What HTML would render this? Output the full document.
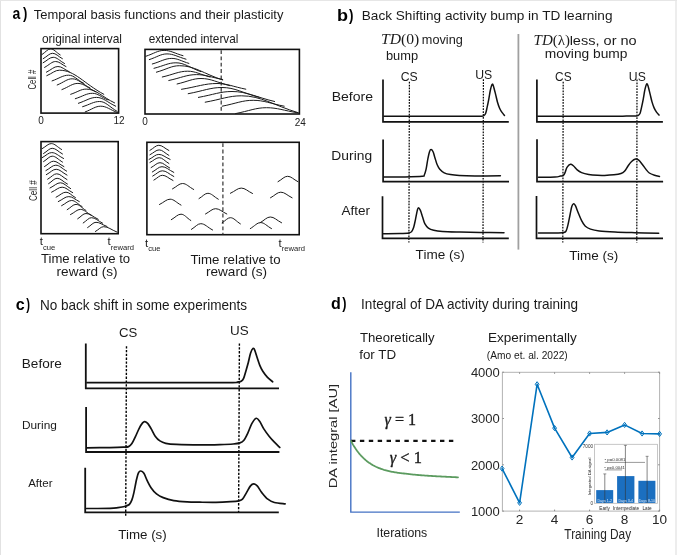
<!DOCTYPE html>
<html><head><meta charset="utf-8"><style>
html,body{margin:0;padding:0;background:#fff;}
svg{display:block;will-change:transform;}

</style></head><body>
<svg width="677" height="555" viewBox="0 0 677 555">
<rect x="0" y="0" width="677" height="555" fill="#fff"/>
<line x1="0.5" y1="0" x2="0.5" y2="555" stroke="#e2e2e2" stroke-width="1" stroke-linecap="butt"/>
<line x1="0" y1="0.5" x2="677" y2="0.5" stroke="#e6e6e6" stroke-width="1" stroke-linecap="butt"/>
<line x1="676" y1="0" x2="676" y2="555" stroke="#e6e6e6" stroke-width="1.4" stroke-linecap="butt"/>
<text x="12.58" y="18.8" font-size="16" font-weight="bold" font-style="normal" fill="#000" font-family='"Liberation Sans", sans-serif' textLength="7.80" lengthAdjust="spacingAndGlyphs" >a</text>
<text x="23.00" y="18.8" font-size="16" font-weight="bold" font-style="normal" fill="#000" font-family='"Liberation Sans", sans-serif' textLength="4.32" lengthAdjust="spacingAndGlyphs" >)</text>
<text x="33.74" y="19" font-size="13" font-weight="normal" font-style="normal" fill="#1a1a1a" font-family='"Liberation Sans", sans-serif' textLength="249.63" lengthAdjust="spacingAndGlyphs" >Temporal basis functions and their plasticity</text>
<text x="41.92" y="43.2" font-size="12.2" font-weight="normal" font-style="normal" fill="#1a1a1a" font-family='"Liberation Sans", sans-serif' textLength="80.06" lengthAdjust="spacingAndGlyphs" >original interval</text>
<text x="148.63" y="42.6" font-size="12.2" font-weight="normal" font-style="normal" fill="#1a1a1a" font-family='"Liberation Sans", sans-serif' textLength="89.75" lengthAdjust="spacingAndGlyphs" >extended interval</text>
<rect x="41.0" y="48.6" width="77.6" height="64.5" fill="none" stroke="#111" stroke-width="1.6"/>
<rect x="145.0" y="49.4" width="154.4" height="64.6" fill="none" stroke="#111" stroke-width="1.6"/>
<rect x="41.0" y="141.6" width="77.2" height="92.1" fill="none" stroke="#111" stroke-width="1.6"/>
<rect x="146.9" y="142.3" width="152.3" height="92.4" fill="none" stroke="#111" stroke-width="1.6"/>
<line x1="221.2" y1="50.2" x2="221.2" y2="114" stroke="#333" stroke-width="1.2" stroke-linecap="butt" stroke-dasharray="3.8,2.5"/>
<line x1="222.9" y1="143.2" x2="222.9" y2="234.5" stroke="#333" stroke-width="1.2" stroke-linecap="butt" stroke-dasharray="3.9,2.5"/>
<text x="41.1" y="123.8" font-size="10" font-weight="normal" fill="#222" text-anchor="middle" font-family='"Liberation Sans", sans-serif' font-style="normal" >0</text>
<text x="119.0" y="123.8" font-size="10" font-weight="normal" fill="#222" text-anchor="middle" font-family='"Liberation Sans", sans-serif' font-style="normal" >12</text>
<text x="145.0" y="124.6" font-size="10" font-weight="normal" fill="#222" text-anchor="middle" font-family='"Liberation Sans", sans-serif' font-style="normal" >0</text>
<text x="300.2" y="125.6" font-size="10" font-weight="normal" fill="#222" text-anchor="middle" font-family='"Liberation Sans", sans-serif' font-style="normal" >24</text>
<text transform="translate(35.8,89.20) rotate(-90)" x="-0.39" y="0" font-size="10.5" fill="#222" font-family='"Liberation Sans", sans-serif' textLength="19.94" lengthAdjust="spacingAndGlyphs">Cell #</text>
<text transform="translate(36.9,200.60) rotate(-90)" x="-0.41" y="0" font-size="10.5" fill="#222" font-family='"Liberation Sans", sans-serif' textLength="20.76" lengthAdjust="spacingAndGlyphs">Cell #</text>
<text x="39.8" y="245.2" font-size="11.5" fill="#1a1a1a" font-family='"Liberation Sans", sans-serif'>t<tspan font-size="7.6" dy="4.3">cue</tspan></text>
<text x="107.6" y="245.2" font-size="11.5" fill="#1a1a1a" font-family='"Liberation Sans", sans-serif'>t<tspan font-size="7.6" dy="4.3">reward</tspan></text>
<text x="145.0" y="246.6" font-size="11.5" fill="#1a1a1a" font-family='"Liberation Sans", sans-serif'>t<tspan font-size="7.6" dy="4.3">cue</tspan></text>
<text x="278.5" y="246.6" font-size="11.5" fill="#1a1a1a" font-family='"Liberation Sans", sans-serif'>t<tspan font-size="7.6" dy="4.3">reward</tspan></text>
<text x="40.94" y="263.4" font-size="12.9" font-weight="normal" font-style="normal" fill="#1a1a1a" font-family='"Liberation Sans", sans-serif' textLength="89.23" lengthAdjust="spacingAndGlyphs" >Time relative to</text>
<text x="56.62" y="275.5" font-size="12.9" font-weight="normal" font-style="normal" fill="#1a1a1a" font-family='"Liberation Sans", sans-serif' textLength="61.00" lengthAdjust="spacingAndGlyphs" >reward (s)</text>
<text x="190.53" y="263.6" font-size="12.9" font-weight="normal" font-style="normal" fill="#1a1a1a" font-family='"Liberation Sans", sans-serif' textLength="90.14" lengthAdjust="spacingAndGlyphs" >Time relative to</text>
<text x="205.92" y="276.0" font-size="12.9" font-weight="normal" font-style="normal" fill="#1a1a1a" font-family='"Liberation Sans", sans-serif' textLength="61.21" lengthAdjust="spacingAndGlyphs" >reward (s)</text>
<path d="M41.9,54.6 C45.9,52.0 47.6,48.9 50.7,48.9 C54.0,48.9 55.9,52.2 60.2,54.9" fill="none" stroke="#1a1a1a" stroke-width="1.0" stroke-linejoin="round" stroke-linecap="round" />
<path d="M43.2,58.7 C47.4,56.3 49.3,53.3 52.6,53.3 C56.0,53.3 58.0,56.3 62.4,58.7" fill="none" stroke="#1a1a1a" stroke-width="1.0" stroke-linejoin="round" stroke-linecap="round" />
<path d="M43.1,62.8 C47.6,60.3 49.7,57.3 53.2,57.3 C57.2,57.3 59.4,60.7 64.5,63.5" fill="none" stroke="#1a1a1a" stroke-width="1.0" stroke-linejoin="round" stroke-linecap="round" />
<path d="M44.6,67.4 C49.6,64.7 51.8,61.5 55.7,61.5 C59.3,61.5 61.4,64.3 66.0,66.6" fill="none" stroke="#1a1a1a" stroke-width="1.0" stroke-linejoin="round" stroke-linecap="round" />
<path d="M46.4,72.2 C51.6,69.6 53.9,66.5 57.9,66.5 C61.9,66.5 64.2,69.4 69.3,71.8" fill="none" stroke="#1a1a1a" stroke-width="1.0" stroke-linejoin="round" stroke-linecap="round" />
<path d="M46.8,75.7 C52.5,73.2 55.0,70.2 59.4,70.2 C74.9,70.2 83.8,83.5 103.8,94.3" fill="none" stroke="#1a1a1a" stroke-width="1.0" stroke-linejoin="round" stroke-linecap="round" />
<path d="M52.1,80.9 C59.5,78.3 62.8,75.2 68.6,75.2 C74.0,75.2 77.1,79.8 84.0,83.5" fill="none" stroke="#1a1a1a" stroke-width="1.0" stroke-linejoin="round" stroke-linecap="round" />
<path d="M57.2,85.0 C64.0,82.2 67.0,78.8 72.2,78.8 C78.4,78.8 82.0,83.9 90.0,88.0" fill="none" stroke="#1a1a1a" stroke-width="1.0" stroke-linejoin="round" stroke-linecap="round" />
<path d="M61.9,89.6 C69.1,86.8 72.3,83.4 77.9,83.4 C84.2,83.4 87.9,88.1 96.0,92.0" fill="none" stroke="#1a1a1a" stroke-width="1.0" stroke-linejoin="round" stroke-linecap="round" />
<path d="M70.7,94.3 C77.7,92.0 80.8,89.1 86.2,89.1 C96.1,89.1 101.8,96.7 114.6,102.9" fill="none" stroke="#1a1a1a" stroke-width="1.0" stroke-linejoin="round" stroke-linecap="round" />
<path d="M75.3,98.7 C83.0,96.3 86.4,93.3 92.4,93.3 C97.9,93.3 101.0,97.0 108.0,100.0" fill="none" stroke="#1a1a1a" stroke-width="1.0" stroke-linejoin="round" stroke-linecap="round" />
<path d="M78.4,103.3 C86.5,100.6 90.2,97.4 96.5,97.4 C103.2,97.4 107.1,102.2 115.7,106.2" fill="none" stroke="#1a1a1a" stroke-width="1.0" stroke-linejoin="round" stroke-linecap="round" />
<path d="M82.6,106.7 C90.2,104.4 93.6,101.5 99.6,101.5 C105.8,101.5 109.3,106.9 117.2,111.4" fill="none" stroke="#1a1a1a" stroke-width="1.0" stroke-linejoin="round" stroke-linecap="round" />
<path d="M85.2,111.9 C92.2,109.3 95.3,106.2 100.7,106.2 C106.6,106.2 109.9,109.7 117.5,112.6" fill="none" stroke="#1a1a1a" stroke-width="1.0" stroke-linejoin="round" stroke-linecap="round" />
<path d="M145.8,56.3 C154.0,53.6 157.7,50.4 164.1,50.4 C170.7,50.4 174.5,53.3 183.0,55.7" fill="none" stroke="#1a1a1a" stroke-width="1.0" stroke-linejoin="round" stroke-linecap="round" />
<path d="M149.3,59.6 C157.3,57.0 160.8,53.9 167.0,53.9 C173.7,53.9 177.4,56.8 186.0,59.2" fill="none" stroke="#1a1a1a" stroke-width="1.0" stroke-linejoin="round" stroke-linecap="round" />
<path d="M152.3,64.0 C161.1,61.5 165.0,58.4 171.8,58.4 C177.8,58.4 181.2,61.1 188.9,63.4" fill="none" stroke="#1a1a1a" stroke-width="1.0" stroke-linejoin="round" stroke-linecap="round" />
<path d="M154.0,68.3 C163.9,65.8 168.2,62.8 175.9,62.8 C184.6,62.8 189.5,67.6 200.7,71.6" fill="none" stroke="#1a1a1a" stroke-width="1.0" stroke-linejoin="round" stroke-linecap="round" />
<path d="M156.4,72.2 C166.8,69.3 171.4,65.7 179.5,65.7 C194.6,65.7 203.3,73.6 222.7,80.0" fill="none" stroke="#1a1a1a" stroke-width="1.0" stroke-linejoin="round" stroke-linecap="round" />
<path d="M162.3,77.0 C173.7,74.4 178.8,71.2 187.7,71.2 C195.5,71.2 200.0,74.4 210.0,77.0" fill="none" stroke="#1a1a1a" stroke-width="1.0" stroke-linejoin="round" stroke-linecap="round" />
<path d="M168.8,80.5 C181.3,77.8 186.9,74.6 196.6,74.6 C205.7,74.6 211.0,77.3 222.7,79.5" fill="none" stroke="#1a1a1a" stroke-width="1.0" stroke-linejoin="round" stroke-linecap="round" />
<path d="M177.1,84.0 C187.9,81.5 192.6,78.5 201.0,78.5 C211.2,78.5 216.9,82.5 230.0,85.7" fill="none" stroke="#1a1a1a" stroke-width="1.0" stroke-linejoin="round" stroke-linecap="round" />
<path d="M181.5,89.3 C197.5,86.7 204.6,83.5 217.0,83.5 C227.1,83.5 232.8,86.6 245.8,89.2" fill="none" stroke="#1a1a1a" stroke-width="1.0" stroke-linejoin="round" stroke-linecap="round" />
<path d="M188.2,93.7 C203.4,90.9 210.2,87.5 222.0,87.5 C235.0,87.5 242.4,92.9 259.1,97.3" fill="none" stroke="#1a1a1a" stroke-width="1.0" stroke-linejoin="round" stroke-linecap="round" />
<path d="M198.4,97.4 C213.5,94.7 220.2,91.5 232.0,91.5 C246.9,91.5 255.4,97.0 274.6,101.5" fill="none" stroke="#1a1a1a" stroke-width="1.0" stroke-linejoin="round" stroke-linecap="round" />
<path d="M205.2,102.2 C221.5,99.3 228.7,95.8 241.4,95.8 C261.4,95.8 272.8,105.1 298.5,112.8" fill="none" stroke="#1a1a1a" stroke-width="1.0" stroke-linejoin="round" stroke-linecap="round" />
<path d="M222.2,106.2 C236.1,103.5 242.3,100.3 253.2,100.3 C264.1,100.3 270.2,103.5 284.2,106.2" fill="none" stroke="#1a1a1a" stroke-width="1.0" stroke-linejoin="round" stroke-linecap="round" />
<path d="M235.5,113.6 C249.4,110.9 255.7,107.7 266.5,107.7 C277.4,107.7 283.6,110.5 297.5,112.8" fill="none" stroke="#1a1a1a" stroke-width="1.0" stroke-linejoin="round" stroke-linecap="round" />
<path d="M42.3,148.6 C46.3,146.3 48.1,143.6 51.3,143.6 C54.9,143.6 57.0,146.8 61.6,149.5" fill="none" stroke="#1a1a1a" stroke-width="1.0" stroke-linejoin="round" stroke-linecap="round" />
<path d="M43.6,153.5 C47.5,151.2 49.2,148.3 52.2,148.3 C55.8,148.3 57.9,151.4 62.5,154.0" fill="none" stroke="#1a1a1a" stroke-width="1.0" stroke-linejoin="round" stroke-linecap="round" />
<path d="M42.3,157.6 C46.5,155.3 48.4,152.6 51.7,152.6 C55.9,152.6 58.2,155.8 63.6,158.5" fill="none" stroke="#1a1a1a" stroke-width="1.0" stroke-linejoin="round" stroke-linecap="round" />
<path d="M43.6,161.6 C47.5,159.2 49.2,156.2 52.2,156.2 C55.8,156.2 57.9,159.4 62.5,162.1" fill="none" stroke="#1a1a1a" stroke-width="1.0" stroke-linejoin="round" stroke-linecap="round" />
<path d="M44.5,166.6 C48.5,164.2 50.4,161.2 53.5,161.2 C57.1,161.2 59.2,164.2 63.9,166.6" fill="none" stroke="#1a1a1a" stroke-width="1.0" stroke-linejoin="round" stroke-linecap="round" />
<path d="M45.9,170.6 C50.4,168.2 52.3,165.2 55.8,165.2 C59.6,165.2 61.7,168.4 66.6,171.1" fill="none" stroke="#1a1a1a" stroke-width="1.0" stroke-linejoin="round" stroke-linecap="round" />
<path d="M46.3,174.7 C50.8,172.3 52.7,169.3 56.2,169.3 C60.0,169.3 62.1,172.5 67.0,175.1" fill="none" stroke="#1a1a1a" stroke-width="1.0" stroke-linejoin="round" stroke-linecap="round" />
<path d="M47.7,179.2 C51.8,176.8 53.6,173.8 56.7,173.8 C60.3,173.8 62.4,177.0 67.0,179.6" fill="none" stroke="#1a1a1a" stroke-width="1.0" stroke-linejoin="round" stroke-linecap="round" />
<path d="M48.6,183.7 C52.4,181.3 54.1,178.3 57.1,178.3 C60.7,178.3 62.8,181.5 67.5,184.1" fill="none" stroke="#1a1a1a" stroke-width="1.0" stroke-linejoin="round" stroke-linecap="round" />
<path d="M50.0,188.0 C54.7,185.7 56.8,182.8 60.5,182.8 C64.0,182.8 66.1,186.0 70.6,188.6" fill="none" stroke="#1a1a1a" stroke-width="1.0" stroke-linejoin="round" stroke-linecap="round" />
<path d="M51.6,192.2 C56.4,189.9 58.5,187.2 62.2,187.2 C65.9,187.2 68.0,190.2 72.7,192.7" fill="none" stroke="#1a1a1a" stroke-width="1.0" stroke-linejoin="round" stroke-linecap="round" />
<path d="M56.1,197.2 C60.6,194.9 62.5,192.2 66.0,192.2 C69.3,192.2 71.2,195.2 75.5,197.7" fill="none" stroke="#1a1a1a" stroke-width="1.0" stroke-linejoin="round" stroke-linecap="round" />
<path d="M58.3,201.6 C63.0,199.3 65.1,196.6 68.8,196.6 C72.5,196.6 74.6,199.3 79.3,201.6" fill="none" stroke="#1a1a1a" stroke-width="1.0" stroke-linejoin="round" stroke-linecap="round" />
<path d="M61.6,205.7 C66.1,203.4 68.1,200.5 71.6,200.5 C75.3,200.5 77.4,203.9 82.1,206.6" fill="none" stroke="#1a1a1a" stroke-width="1.0" stroke-linejoin="round" stroke-linecap="round" />
<path d="M67.2,209.7 C71.2,207.3 72.9,204.4 76.0,204.4 C79.5,204.4 81.5,207.8 86.0,210.5" fill="none" stroke="#1a1a1a" stroke-width="1.0" stroke-linejoin="round" stroke-linecap="round" />
<path d="M70.5,214.6 C75.0,212.3 76.9,209.4 80.4,209.4 C84.3,209.4 86.5,212.7 91.5,215.4" fill="none" stroke="#1a1a1a" stroke-width="1.0" stroke-linejoin="round" stroke-linecap="round" />
<path d="M77.7,218.8 C81.4,216.4 83.1,213.5 86.0,213.5 C90.3,213.5 92.7,216.7 98.2,219.3" fill="none" stroke="#1a1a1a" stroke-width="1.0" stroke-linejoin="round" stroke-linecap="round" />
<path d="M83.2,223.0 C86.9,220.6 88.6,217.7 91.5,217.7 C95.4,217.7 97.6,220.7 102.6,223.2" fill="none" stroke="#1a1a1a" stroke-width="1.0" stroke-linejoin="round" stroke-linecap="round" />
<path d="M87.6,227.6 C91.4,225.2 93.1,222.3 96.0,222.3 C99.8,222.3 102.0,224.6 107.0,226.5" fill="none" stroke="#1a1a1a" stroke-width="1.0" stroke-linejoin="round" stroke-linecap="round" />
<path d="M95.4,231.5 C99.1,229.3 100.8,226.7 103.7,226.7 C108.4,226.7 111.0,229.7 117.0,232.1" fill="none" stroke="#1a1a1a" stroke-width="1.0" stroke-linejoin="round" stroke-linecap="round" />
<path d="M149.9,150.4 C153.9,148.1 155.7,145.3 158.8,145.3 C162.3,145.3 164.4,148.2 168.9,150.5" fill="none" stroke="#1a1a1a" stroke-width="1.0" stroke-linejoin="round" stroke-linecap="round" />
<path d="M149.9,154.8 C154.1,152.6 155.9,149.9 159.2,149.9 C162.6,149.9 164.5,152.9 168.9,155.4" fill="none" stroke="#1a1a1a" stroke-width="1.0" stroke-linejoin="round" stroke-linecap="round" />
<path d="M149.1,159.4 C153.5,157.2 155.4,154.4 158.8,154.4 C162.8,154.4 165.0,157.2 170.1,159.4" fill="none" stroke="#1a1a1a" stroke-width="1.0" stroke-linejoin="round" stroke-linecap="round" />
<path d="M149.9,162.5 C154.1,160.3 155.9,157.7 159.2,157.7 C162.6,157.7 164.5,160.9 168.9,163.5" fill="none" stroke="#1a1a1a" stroke-width="1.0" stroke-linejoin="round" stroke-linecap="round" />
<path d="M151.1,167.6 C155.1,165.4 156.9,162.7 160.0,162.7 C163.4,162.7 165.3,165.6 169.7,168.0" fill="none" stroke="#1a1a1a" stroke-width="1.0" stroke-linejoin="round" stroke-linecap="round" />
<path d="M152.3,172.0 C156.7,169.6 158.6,166.7 162.0,166.7 C166.1,166.7 168.5,169.8 173.8,172.4" fill="none" stroke="#1a1a1a" stroke-width="1.0" stroke-linejoin="round" stroke-linecap="round" />
<path d="M152.7,176.1 C157.1,173.7 159.0,170.8 162.4,170.8 C166.4,170.8 168.7,173.9 173.8,176.5" fill="none" stroke="#1a1a1a" stroke-width="1.0" stroke-linejoin="round" stroke-linecap="round" />
<path d="M153.9,180.1 C157.7,177.9 159.4,175.3 162.4,175.3 C166.1,175.3 168.2,178.2 173.0,180.5" fill="none" stroke="#1a1a1a" stroke-width="1.0" stroke-linejoin="round" stroke-linecap="round" />
<path d="M172.5,188.9 C177.0,186.5 179.0,183.5 182.5,183.5 C186.4,183.5 188.7,186.8 193.7,189.5" fill="none" stroke="#1a1a1a" stroke-width="1.0" stroke-linejoin="round" stroke-linecap="round" />
<path d="M199.0,198.6 C203.0,196.2 204.8,193.3 207.9,193.3 C211.5,193.3 213.6,196.5 218.3,199.2" fill="none" stroke="#1a1a1a" stroke-width="1.0" stroke-linejoin="round" stroke-linecap="round" />
<path d="M159.5,204.5 C164.3,202.1 166.4,199.2 170.1,199.2 C173.9,199.2 176.1,202.4 181.0,205.1" fill="none" stroke="#1a1a1a" stroke-width="1.0" stroke-linejoin="round" stroke-linecap="round" />
<path d="M205.5,214.0 C210.0,211.6 212.1,208.7 215.6,208.7 C219.5,208.7 221.8,211.6 226.8,214.0" fill="none" stroke="#1a1a1a" stroke-width="1.0" stroke-linejoin="round" stroke-linecap="round" />
<path d="M171.3,219.7 C175.7,217.2 177.6,214.2 181.0,214.2 C184.4,214.2 186.4,217.7 190.8,220.5" fill="none" stroke="#1a1a1a" stroke-width="1.0" stroke-linejoin="round" stroke-linecap="round" />
<path d="M191.4,229.4 C195.6,226.8 197.5,223.7 200.8,223.7 C204.9,223.7 207.3,227.2 212.6,230.0" fill="none" stroke="#1a1a1a" stroke-width="1.0" stroke-linejoin="round" stroke-linecap="round" />
<path d="M278.0,181.7 C282.3,179.3 284.2,176.3 287.6,176.3 C291.2,176.3 293.3,179.3 297.9,181.7" fill="none" stroke="#1a1a1a" stroke-width="1.0" stroke-linejoin="round" stroke-linecap="round" />
<path d="M230.4,193.3 C235.3,191.0 237.5,188.1 241.3,188.1 C245.2,188.1 247.5,191.1 252.5,193.5" fill="none" stroke="#1a1a1a" stroke-width="1.0" stroke-linejoin="round" stroke-linecap="round" />
<path d="M270.5,197.8 C275.1,195.3 277.2,192.2 280.8,192.2 C284.8,192.2 287.0,195.3 292.1,197.8" fill="none" stroke="#1a1a1a" stroke-width="1.0" stroke-linejoin="round" stroke-linecap="round" />
<path d="M222.1,222.8 C225.8,220.5 227.5,217.7 230.4,217.7 C233.9,217.7 235.9,221.1 240.4,223.9" fill="none" stroke="#1a1a1a" stroke-width="1.0" stroke-linejoin="round" stroke-linecap="round" />
<path d="M250.3,228.6 C254.9,225.9 257.0,222.6 260.6,222.6 C264.4,222.6 266.6,225.9 271.5,228.6" fill="none" stroke="#1a1a1a" stroke-width="1.0" stroke-linejoin="round" stroke-linecap="round" />
<path d="M260.0,222.8 C264.6,220.2 266.7,217.0 270.3,217.0 C274.3,217.0 276.5,220.2 281.6,222.8" fill="none" stroke="#1a1a1a" stroke-width="1.0" stroke-linejoin="round" stroke-linecap="round" />
<text x="337.13" y="21.2" font-size="16" font-weight="bold" font-style="normal" fill="#000" font-family='"Liberation Sans", sans-serif' textLength="11.01" lengthAdjust="spacingAndGlyphs" >b</text>
<text x="348.90" y="21.2" font-size="16" font-weight="bold" font-style="normal" fill="#000" font-family='"Liberation Sans", sans-serif' textLength="4.44" lengthAdjust="spacingAndGlyphs" >)</text>
<text x="361.81" y="19.9" font-size="13" font-weight="normal" font-style="normal" fill="#1a1a1a" font-family='"Liberation Sans", sans-serif' textLength="250.67" lengthAdjust="spacingAndGlyphs" >Back Shifting activity bump in TD learning</text>
<text x="381.0" y="44" font-size="14.5" fill="#1a1a1a" font-family='"Liberation Serif", serif' textLength="38.3" lengthAdjust="spacingAndGlyphs"><tspan font-style="italic">TD</tspan>(0)</text>
<text x="421.87" y="44" font-size="12.5" font-weight="normal" font-style="normal" fill="#1a1a1a" font-family='"Liberation Sans", sans-serif' textLength="40.93" lengthAdjust="spacingAndGlyphs" >moving</text>
<text x="385.96" y="59.8" font-size="12.5" font-weight="normal" font-style="normal" fill="#1a1a1a" font-family='"Liberation Sans", sans-serif' textLength="32.17" lengthAdjust="spacingAndGlyphs" >bump</text>
<text x="533.6" y="45.4" font-size="14.5" fill="#1a1a1a" font-family='"Liberation Serif", serif' textLength="36.4" lengthAdjust="spacingAndGlyphs"><tspan font-style="italic">TD</tspan>(λ)</text>
<text x="569.65" y="45.4" font-size="12.8" font-weight="normal" font-style="normal" fill="#1a1a1a" font-family='"Liberation Sans", sans-serif' textLength="67.08" lengthAdjust="spacingAndGlyphs" >less, or no</text>
<text x="544.80" y="58.4" font-size="12.8" font-weight="normal" font-style="normal" fill="#1a1a1a" font-family='"Liberation Sans", sans-serif' textLength="82.69" lengthAdjust="spacingAndGlyphs" >moving bump</text>
<line x1="518.4" y1="34" x2="518.4" y2="249.6" stroke="#a0a0a0" stroke-width="1.8" stroke-linecap="butt"/>
<text x="331.68" y="101.4" font-size="12.8" font-weight="normal" font-style="normal" fill="#1a1a1a" font-family='"Liberation Sans", sans-serif' textLength="41.38" lengthAdjust="spacingAndGlyphs" >Before</text>
<text x="331.39" y="160" font-size="12.8" font-weight="normal" font-style="normal" fill="#1a1a1a" font-family='"Liberation Sans", sans-serif' textLength="40.72" lengthAdjust="spacingAndGlyphs" >During</text>
<text x="341.50" y="214.5" font-size="12.8" font-weight="normal" font-style="normal" fill="#1a1a1a" font-family='"Liberation Sans", sans-serif' textLength="28.53" lengthAdjust="spacingAndGlyphs" >After</text>
<text x="415.63" y="259.4" font-size="12.8" font-weight="normal" font-style="normal" fill="#1a1a1a" font-family='"Liberation Sans", sans-serif' textLength="49.14" lengthAdjust="spacingAndGlyphs" >Time (s)</text>
<text x="569.23" y="259.5" font-size="12.8" font-weight="normal" font-style="normal" fill="#1a1a1a" font-family='"Liberation Sans", sans-serif' textLength="49.14" lengthAdjust="spacingAndGlyphs" >Time (s)</text>
<text x="400.69" y="80.6" font-size="12" font-weight="normal" font-style="normal" fill="#1a1a1a" font-family='"Liberation Sans", sans-serif' textLength="17.02" lengthAdjust="spacingAndGlyphs" >CS</text>
<text x="475.18" y="78.9" font-size="12" font-weight="normal" font-style="normal" fill="#1a1a1a" font-family='"Liberation Sans", sans-serif' textLength="17.02" lengthAdjust="spacingAndGlyphs" >US</text>
<text x="555.11" y="80.6" font-size="12" font-weight="normal" font-style="normal" fill="#1a1a1a" font-family='"Liberation Sans", sans-serif' textLength="16.48" lengthAdjust="spacingAndGlyphs" >CS</text>
<text x="628.89" y="80.6" font-size="12" font-weight="normal" font-style="normal" fill="#1a1a1a" font-family='"Liberation Sans", sans-serif' textLength="16.91" lengthAdjust="spacingAndGlyphs" >US</text>
<line x1="409.4" y1="81.8" x2="408.9" y2="242.5" stroke="#000" stroke-width="1.2" stroke-linecap="butt" stroke-dasharray="1.7,1.2"/>
<line x1="483.4" y1="79.3" x2="483.0" y2="242.5" stroke="#000" stroke-width="1.2" stroke-linecap="butt" stroke-dasharray="1.7,1.2"/>
<line x1="563.2" y1="81.8" x2="562.8" y2="242.5" stroke="#000" stroke-width="1.2" stroke-linecap="butt" stroke-dasharray="1.7,1.2"/>
<line x1="637.0" y1="79.6" x2="636.8" y2="242.5" stroke="#000" stroke-width="1.2" stroke-linecap="butt" stroke-dasharray="1.7,1.2"/>
<path d="M383.0,79.6 L383.0,121.8 L508.8,121.8" fill="none" stroke="#111" stroke-width="1.7"/>
<path d="M536.9,79.5 L536.9,121.8 L662.9,121.8" fill="none" stroke="#111" stroke-width="1.7"/>
<path d="M383.1,139.6 L383.1,181.6 L509.0,181.6" fill="none" stroke="#111" stroke-width="1.7"/>
<path d="M537.0,139.3 L537.0,181.6 L663.1,181.6" fill="none" stroke="#111" stroke-width="1.7"/>
<path d="M382.5,196.2 L382.5,238.3 L508.8,238.3" fill="none" stroke="#111" stroke-width="1.7"/>
<path d="M536.5,196.1 L536.5,238.3 L663.0,238.3" fill="none" stroke="#111" stroke-width="1.7"/>
<path d="M384.00,116.30 C390.00,116.29 409.00,116.27 420.00,116.25 C431.00,116.23 442.50,116.21 450.00,116.20 C457.50,116.19 460.83,116.20 465.00,116.20 C469.17,116.20 472.33,116.20 475.00,116.20 C477.67,116.20 479.62,116.25 481.00,116.20 C482.38,116.15 482.55,116.30 483.30,115.90 C484.05,115.50 484.87,115.22 485.50,113.80 C486.13,112.38 486.55,109.85 487.10,107.40 C487.65,104.95 488.25,102.00 488.80,99.10 C489.35,96.20 489.85,92.45 490.40,90.00 C490.95,87.55 491.60,85.08 492.10,84.40 C492.60,83.72 492.82,84.23 493.40,85.90 C493.98,87.57 494.92,91.68 495.60,94.40 C496.28,97.12 496.83,99.90 497.50,102.20 C498.17,104.50 498.85,106.50 499.60,108.20 C500.35,109.90 501.18,111.20 502.00,112.40 C502.82,113.60 504.08,114.90 504.50,115.40" fill="none" stroke="#111" stroke-width="1.5" stroke-linejoin="round" stroke-linecap="round" />
<path d="M537.80,116.30 C543.17,116.29 559.63,116.27 570.00,116.25 C580.37,116.23 591.75,116.21 600.00,116.20 C608.25,116.19 614.58,116.25 619.50,116.20 C624.42,116.15 626.83,115.95 629.50,115.90 C632.17,115.85 634.12,115.95 635.50,115.90 C636.88,115.85 637.05,116.00 637.80,115.60 C638.55,115.20 639.37,114.92 640.00,113.50 C640.63,112.08 641.05,109.55 641.60,107.10 C642.15,104.65 642.75,101.70 643.30,98.80 C643.85,95.90 644.35,92.15 644.90,89.70 C645.45,87.25 646.10,84.78 646.60,84.10 C647.10,83.42 647.32,83.93 647.90,85.60 C648.48,87.27 649.42,91.38 650.10,94.10 C650.78,96.82 651.33,99.60 652.00,101.90 C652.67,104.20 653.35,106.20 654.10,107.90 C654.85,109.60 655.68,110.90 656.50,112.10 C657.32,113.30 658.58,114.60 659.00,115.10" fill="none" stroke="#111" stroke-width="1.5" stroke-linejoin="round" stroke-linecap="round" />
<path d="M384.00,177.00 C387.50,176.98 398.65,177.02 405.00,176.90 C411.35,176.78 418.88,176.62 422.10,176.30 C425.32,175.98 423.63,176.18 424.30,175.00 C424.97,173.82 425.50,171.93 426.10,169.20 C426.70,166.47 427.32,161.55 427.90,158.60 C428.48,155.65 429.07,153.00 429.60,151.50 C430.13,150.00 430.50,149.52 431.10,149.60 C431.70,149.68 432.57,150.65 433.20,152.00 C433.83,153.35 434.23,155.57 434.90,157.70 C435.57,159.83 436.38,162.88 437.20,164.80 C438.02,166.72 438.63,167.87 439.80,169.20 C440.97,170.53 442.42,171.90 444.20,172.80 C445.98,173.70 447.98,174.15 450.50,174.60 C453.02,175.05 455.22,175.28 459.30,175.50 C463.38,175.72 468.15,175.85 475.00,175.90 C481.85,175.95 496.17,175.82 500.40,175.80" fill="none" stroke="#111" stroke-width="1.5" stroke-linejoin="round" stroke-linecap="round" />
<path d="M538.50,177.30 C541.25,177.25 551.37,177.20 555.00,177.00 C558.63,176.80 558.90,176.38 560.30,176.10 C561.70,175.82 562.58,175.95 563.40,175.30 C564.22,174.65 564.60,173.53 565.20,172.20 C565.80,170.87 566.12,168.63 567.00,167.30 C567.88,165.97 569.40,164.42 570.50,164.20 C571.60,163.98 572.48,165.05 573.60,166.00 C574.72,166.95 575.87,168.80 577.20,169.90 C578.53,171.00 579.68,171.85 581.60,172.60 C583.52,173.35 586.05,173.95 588.70,174.40 C591.35,174.85 594.85,175.13 597.50,175.30 C600.15,175.47 601.87,175.48 604.60,175.40 C607.33,175.32 611.17,175.12 613.90,174.80 C616.63,174.48 619.23,174.08 621.00,173.50 C622.77,172.92 623.33,172.55 624.50,171.30 C625.67,170.05 626.82,167.63 628.00,166.00 C629.18,164.37 630.33,162.65 631.60,161.50 C632.87,160.35 634.42,159.32 635.60,159.10 C636.78,158.88 637.60,159.35 638.70,160.20 C639.80,161.05 641.02,162.72 642.20,164.20 C643.38,165.68 644.62,167.63 645.80,169.10 C646.98,170.57 647.83,171.97 649.30,173.00 C650.77,174.03 652.90,174.73 654.60,175.30 C656.30,175.87 658.68,176.22 659.50,176.40" fill="none" stroke="#111" stroke-width="1.5" stroke-linejoin="round" stroke-linecap="round" />
<path d="M383.50,233.70 C386.25,233.68 395.77,233.72 400.00,233.60 C404.23,233.48 406.98,233.32 408.90,233.00 C410.82,232.68 410.70,232.67 411.50,231.70 C412.30,230.73 413.03,229.27 413.70,227.20 C414.37,225.13 414.90,222.10 415.50,219.30 C416.10,216.50 416.82,212.33 417.30,210.40 C417.78,208.47 417.88,207.70 418.40,207.70 C418.92,207.70 419.70,208.83 420.40,210.40 C421.10,211.97 421.87,214.88 422.60,217.10 C423.33,219.32 423.83,221.87 424.80,223.70 C425.77,225.53 426.92,227.00 428.40,228.10 C429.88,229.20 431.35,229.73 433.70,230.30 C436.05,230.87 438.12,231.20 442.50,231.50 C446.88,231.80 453.75,231.93 460.00,232.10 C466.25,232.27 472.67,232.40 480.00,232.50 C487.33,232.60 500.00,232.67 504.00,232.70" fill="none" stroke="#111" stroke-width="1.5" stroke-linejoin="round" stroke-linecap="round" />
<path d="M538.40,232.90 C541.17,232.90 550.75,232.98 555.00,232.90 C559.25,232.82 562.05,232.73 563.90,232.40 C565.75,232.07 565.43,232.12 566.10,230.90 C566.77,229.68 567.23,227.83 567.90,225.10 C568.57,222.37 569.45,217.60 570.10,214.50 C570.75,211.40 571.27,208.27 571.80,206.50 C572.33,204.73 572.70,204.05 573.30,203.90 C573.90,203.75 574.62,204.20 575.40,205.60 C576.18,207.00 576.97,209.78 578.00,212.30 C579.03,214.82 580.42,218.42 581.60,220.70 C582.78,222.98 583.62,224.60 585.10,226.00 C586.58,227.40 588.13,228.28 590.50,229.10 C592.87,229.92 595.22,230.42 599.30,230.90 C603.38,231.38 609.05,231.70 615.00,232.00 C620.95,232.30 627.72,232.48 635.00,232.70 C642.28,232.92 654.75,233.20 658.70,233.30" fill="none" stroke="#111" stroke-width="1.5" stroke-linejoin="round" stroke-linecap="round" />
<text x="15.76" y="310.4" font-size="16" font-weight="bold" font-style="normal" fill="#000" font-family='"Liberation Sans", sans-serif' textLength="8.94" lengthAdjust="spacingAndGlyphs" >c</text>
<text x="26.20" y="310.4" font-size="16" font-weight="bold" font-style="normal" fill="#000" font-family='"Liberation Sans", sans-serif' textLength="3.74" lengthAdjust="spacingAndGlyphs" >)</text>
<text x="39.92" y="309.7" font-size="14.3" font-weight="normal" font-style="normal" fill="#1a1a1a" font-family='"Liberation Sans", sans-serif' textLength="207.25" lengthAdjust="spacingAndGlyphs" >No back shift in some experiments</text>
<text x="118.94" y="336.5" font-size="12.5" font-weight="normal" font-style="normal" fill="#1a1a1a" font-family='"Liberation Sans", sans-serif' textLength="18.31" lengthAdjust="spacingAndGlyphs" >CS</text>
<text x="230.09" y="334.8" font-size="12.5" font-weight="normal" font-style="normal" fill="#1a1a1a" font-family='"Liberation Sans", sans-serif' textLength="18.67" lengthAdjust="spacingAndGlyphs" >US</text>
<text x="21.81" y="367.9" font-size="12.8" font-weight="normal" font-style="normal" fill="#1a1a1a" font-family='"Liberation Sans", sans-serif' textLength="40.02" lengthAdjust="spacingAndGlyphs" >Before</text>
<text x="21.95" y="429.0" font-size="11.6" font-weight="normal" font-style="normal" fill="#1a1a1a" font-family='"Liberation Sans", sans-serif' textLength="34.93" lengthAdjust="spacingAndGlyphs" >During</text>
<text x="28.20" y="486.9" font-size="11.6" font-weight="normal" font-style="normal" fill="#1a1a1a" font-family='"Liberation Sans", sans-serif' textLength="24.29" lengthAdjust="spacingAndGlyphs" >After</text>
<text x="118.33" y="538.8" font-size="12.8" font-weight="normal" font-style="normal" fill="#1a1a1a" font-family='"Liberation Sans", sans-serif' textLength="48.42" lengthAdjust="spacingAndGlyphs" >Time (s)</text>
<line x1="126.5" y1="346.2" x2="125.7" y2="516.5" stroke="#000" stroke-width="1.4" stroke-linecap="butt" stroke-dasharray="2.3,1.5"/>
<line x1="239.4" y1="343.5" x2="238.6" y2="513.5" stroke="#000" stroke-width="1.4" stroke-linecap="butt" stroke-dasharray="2.3,1.5"/>
<path d="M85.8,343.6 L85.8,388.3 L279.0,388.3" fill="none" stroke="#111" stroke-width="1.8"/>
<path d="M86.1,407.0 L86.1,452.0 L279.4,452.0" fill="none" stroke="#111" stroke-width="1.8"/>
<path d="M85.2,467.8 L85.2,512.3 L278.8,512.3" fill="none" stroke="#111" stroke-width="1.8"/>
<path d="M87.00,382.70 C99.17,382.70 136.17,382.70 160.00,382.70 C183.83,382.70 217.08,382.82 230.00,382.70 C242.92,382.58 235.63,382.24 237.50,382.00 C239.37,381.76 240.18,381.85 241.20,381.25 C242.22,380.65 242.82,380.12 243.60,378.40 C244.38,376.67 245.12,373.55 245.90,370.90 C246.68,368.25 247.52,365.47 248.30,362.50 C249.08,359.53 249.82,355.45 250.60,353.10 C251.38,350.75 252.30,348.87 253.00,348.40 C253.70,347.93 254.10,348.73 254.80,350.30 C255.50,351.87 256.37,355.30 257.20,357.80 C258.03,360.30 258.87,363.07 259.80,365.30 C260.73,367.53 261.52,369.20 262.80,371.20 C264.08,373.20 265.85,375.53 267.50,377.30 C269.15,379.07 271.83,381.05 272.70,381.80" fill="none" stroke="#111" stroke-width="1.7" stroke-linejoin="round" stroke-linecap="round" />
<path d="M87.00,447.80 C90.83,447.77 103.95,447.70 110.00,447.60 C116.05,447.50 120.20,447.37 123.30,447.20 C126.40,447.03 127.17,447.20 128.60,446.60 C130.03,446.00 130.78,445.22 131.90,443.60 C133.02,441.98 134.08,439.45 135.30,436.90 C136.52,434.35 137.98,430.63 139.20,428.30 C140.42,425.97 141.67,424.02 142.60,422.90 C143.53,421.78 143.92,421.48 144.80,421.60 C145.68,421.72 146.83,422.38 147.90,423.60 C148.97,424.82 149.98,426.80 151.20,428.90 C152.42,431.00 153.75,434.20 155.20,436.20 C156.65,438.20 158.13,439.72 159.90,440.90 C161.67,442.08 163.03,442.72 165.80,443.30 C168.57,443.88 170.80,444.13 176.50,444.40 C182.20,444.67 192.77,444.87 200.00,444.90 C207.23,444.93 214.37,444.75 219.90,444.60 C225.43,444.45 229.87,444.28 233.20,444.00 C236.53,443.72 238.12,443.53 239.90,442.90 C241.68,442.27 242.57,441.87 243.90,440.20 C245.23,438.53 246.58,435.67 247.90,432.90 C249.22,430.13 250.42,426.03 251.80,423.60 C253.18,421.17 254.87,418.63 256.20,418.30 C257.53,417.97 258.53,419.83 259.80,421.60 C261.07,423.37 262.25,426.47 263.80,428.90 C265.35,431.33 267.33,433.98 269.10,436.20 C270.87,438.42 272.62,440.32 274.40,442.20 C276.18,444.08 278.90,446.62 279.80,447.50" fill="none" stroke="#111" stroke-width="1.7" stroke-linejoin="round" stroke-linecap="round" />
<path d="M86.50,508.50 C90.42,508.47 104.75,508.45 110.00,508.30 C115.25,508.15 115.57,507.90 118.00,507.60 C120.43,507.30 122.72,507.02 124.60,506.50 C126.48,505.98 128.08,505.60 129.30,504.50 C130.52,503.40 131.13,501.88 131.90,499.90 C132.67,497.92 133.12,496.03 133.90,492.60 C134.68,489.17 135.82,482.63 136.60,479.30 C137.38,475.97 137.90,473.98 138.60,472.60 C139.30,471.22 139.92,470.88 140.80,471.00 C141.68,471.12 142.83,471.70 143.90,473.30 C144.97,474.90 145.98,478.17 147.20,480.60 C148.42,483.03 149.65,485.68 151.20,487.90 C152.75,490.12 154.50,492.28 156.50,493.90 C158.50,495.52 160.32,496.48 163.20,497.60 C166.08,498.72 169.82,499.88 173.80,500.60 C177.78,501.32 182.73,501.63 187.10,501.90 C191.47,502.17 195.18,502.13 200.00,502.20 C204.82,502.27 210.90,502.40 216.00,502.30 C221.10,502.20 226.83,501.85 230.60,501.60 C234.37,501.35 236.62,501.20 238.60,500.80 C240.58,500.40 241.18,500.57 242.50,499.20 C243.82,497.83 245.17,494.82 246.50,492.60 C247.83,490.38 249.32,487.35 250.50,485.90 C251.68,484.45 252.48,483.90 253.60,483.90 C254.72,483.90 255.83,484.45 257.20,485.90 C258.57,487.35 260.03,490.38 261.80,492.60 C263.57,494.82 265.70,497.55 267.80,499.20 C269.90,500.85 271.52,501.72 274.40,502.50 C277.28,503.28 283.32,503.67 285.10,503.90" fill="none" stroke="#111" stroke-width="1.7" stroke-linejoin="round" stroke-linecap="round" />
<text x="330.96" y="308.7" font-size="16" font-weight="bold" font-style="normal" fill="#000" font-family='"Liberation Sans", sans-serif' textLength="9.80" lengthAdjust="spacingAndGlyphs" >d</text>
<text x="342.20" y="308.7" font-size="16" font-weight="bold" font-style="normal" fill="#000" font-family='"Liberation Sans", sans-serif' textLength="4.21" lengthAdjust="spacingAndGlyphs" >)</text>
<text x="361.08" y="308.9" font-size="14.3" font-weight="normal" font-style="normal" fill="#1a1a1a" font-family='"Liberation Sans", sans-serif' textLength="217.08" lengthAdjust="spacingAndGlyphs" >Integral of DA activity during training</text>
<text x="359.94" y="342.0" font-size="13.5" font-weight="normal" font-style="normal" fill="#1a1a1a" font-family='"Liberation Sans", sans-serif' textLength="74.65" lengthAdjust="spacingAndGlyphs" >Theoretically</text>
<text x="359.20" y="358.9" font-size="13.5" font-weight="normal" font-style="normal" fill="#1a1a1a" font-family='"Liberation Sans", sans-serif' textLength="36.90" lengthAdjust="spacingAndGlyphs" >for TD</text>
<text x="488.02" y="341.7" font-size="13" font-weight="normal" font-style="normal" fill="#1a1a1a" font-family='"Liberation Sans", sans-serif' textLength="88.66" lengthAdjust="spacingAndGlyphs" >Experimentally</text>
<text x="486.89" y="358.6" font-size="10" font-weight="normal" font-style="normal" fill="#1a1a1a" font-family='"Liberation Sans", sans-serif' textLength="80.86" lengthAdjust="spacingAndGlyphs" >(Amo et. al. 2022)</text>
<path d="M350.8,372.3 L350.8,512.1 L459.8,512.1" fill="none" stroke="#4472C4" stroke-width="1.4"/>
<line x1="351" y1="440.8" x2="456" y2="440.8" stroke="#111" stroke-width="2.2" stroke-linecap="butt" stroke-dasharray="4.4,4.5"/>
<path d="M351.0,441.00 L352.0,442.85 L353.0,444.61 L354.0,446.27 L355.0,447.83 L356.0,449.32 L357.0,450.72 L358.0,452.05 L359.0,453.31 L360.0,454.50 L361.0,455.62 L362.0,456.68 L363.0,457.69 L364.0,458.64 L365.0,459.54 L366.0,460.39 L367.0,461.20 L368.0,461.96 L369.0,462.68 L370.0,463.36 L371.0,464.01 L372.0,464.62 L373.0,465.20 L374.0,465.74 L375.0,466.26 L376.0,466.75 L377.0,467.21 L378.0,467.65 L379.0,468.06 L380.0,468.45 L381.0,468.82 L382.0,469.17 L383.0,469.50 L384.0,469.82 L385.0,470.11 L386.0,470.39 L387.0,470.66 L388.0,470.91 L389.0,471.15 L390.0,471.37 L391.0,471.58 L392.0,471.78 L393.0,471.97 L394.0,472.15 L395.0,472.32 L396.0,472.48 L397.0,472.64 L398.0,472.78 L399.0,472.92 L400.0,473.05 L401.0,473.17 L402.0,473.28 L403.0,473.39 L404.0,473.49 L405.0,473.59 L406.0,473.72 L407.0,473.85 L408.0,473.97 L409.0,474.09 L410.0,474.21 L411.0,474.32 L412.0,474.42 L413.0,474.53 L414.0,474.62 L415.0,474.72 L416.0,474.81 L417.0,474.90 L418.0,474.99 L419.0,475.08 L420.0,475.16 L421.0,475.24 L422.0,475.32 L423.0,475.39 L424.0,475.47 L425.0,475.54 L426.0,475.61 L427.0,475.68 L428.0,475.74 L429.0,475.81 L430.0,475.87 L431.0,475.94 L432.0,476.00 L433.0,476.06 L434.0,476.12 L435.0,476.18 L436.0,476.23 L437.0,476.29 L438.0,476.35 L439.0,476.40 L440.0,476.46 L441.0,476.51 L442.0,476.56 L443.0,476.61 L444.0,476.66 L445.0,476.71 L446.0,476.76 L447.0,476.81 L448.0,476.86 L449.0,476.91 L450.0,476.96 L451.0,477.01 L452.0,477.05 L453.0,477.10 L454.0,477.15 L455.0,477.19 L456.0,477.24 L457.0,477.28 L458.0,477.33" fill="none" stroke="#5b9b5f" stroke-width="1.8" stroke-linejoin="round" stroke-linecap="round" />
<text x="384.6" y="425" font-size="16" fill="#1a1a1a" stroke="#1a1a1a" stroke-width="0.35" font-family='"Liberation Serif", serif' textLength="31.5" lengthAdjust="spacingAndGlyphs"><tspan font-style="italic">γ</tspan> = 1</text>
<text x="389.8" y="463.4" font-size="16" fill="#1a1a1a" stroke="#1a1a1a" stroke-width="0.35" font-family='"Liberation Serif", serif' textLength="32.1" lengthAdjust="spacingAndGlyphs"><tspan font-style="italic">γ</tspan> &lt; 1</text>
<text transform="translate(336.6,487.10) rotate(-90)" x="-1.17" y="0" font-size="11.8" fill="#262626" font-family='"Liberation Sans", sans-serif' textLength="104.37" lengthAdjust="spacingAndGlyphs">DA integral [AU]</text>
<text x="376.49" y="537.4" font-size="13" font-weight="normal" font-style="normal" fill="#222" font-family='"Liberation Sans", sans-serif' textLength="50.82" lengthAdjust="spacingAndGlyphs" >Iterations</text>
<rect x="502.4" y="372.3" width="157.2" height="138.8" fill="none" stroke="#b3b3b3" stroke-width="1"/>
<line x1="519.6" y1="511.1" x2="519.6" y2="509.6" stroke="#8a8a8a" stroke-width="1" stroke-linecap="butt"/>
<line x1="519.6" y1="372.3" x2="519.6" y2="373.8" stroke="#8a8a8a" stroke-width="1" stroke-linecap="butt"/>
<text x="519.6" y="523.6" font-size="13.6" font-weight="normal" fill="#262626" text-anchor="middle" font-family='"Liberation Sans", sans-serif' font-style="normal" >2</text>
<line x1="554.6" y1="511.1" x2="554.6" y2="509.6" stroke="#8a8a8a" stroke-width="1" stroke-linecap="butt"/>
<line x1="554.6" y1="372.3" x2="554.6" y2="373.8" stroke="#8a8a8a" stroke-width="1" stroke-linecap="butt"/>
<text x="554.6" y="523.6" font-size="13.6" font-weight="normal" fill="#262626" text-anchor="middle" font-family='"Liberation Sans", sans-serif' font-style="normal" >4</text>
<line x1="589.6" y1="511.1" x2="589.6" y2="509.6" stroke="#8a8a8a" stroke-width="1" stroke-linecap="butt"/>
<line x1="589.6" y1="372.3" x2="589.6" y2="373.8" stroke="#8a8a8a" stroke-width="1" stroke-linecap="butt"/>
<text x="589.6" y="523.6" font-size="13.6" font-weight="normal" fill="#262626" text-anchor="middle" font-family='"Liberation Sans", sans-serif' font-style="normal" >6</text>
<line x1="624.6" y1="511.1" x2="624.6" y2="509.6" stroke="#8a8a8a" stroke-width="1" stroke-linecap="butt"/>
<line x1="624.6" y1="372.3" x2="624.6" y2="373.8" stroke="#8a8a8a" stroke-width="1" stroke-linecap="butt"/>
<text x="624.6" y="523.6" font-size="13.6" font-weight="normal" fill="#262626" text-anchor="middle" font-family='"Liberation Sans", sans-serif' font-style="normal" >8</text>
<line x1="659.6" y1="511.1" x2="659.6" y2="509.6" stroke="#8a8a8a" stroke-width="1" stroke-linecap="butt"/>
<line x1="659.6" y1="372.3" x2="659.6" y2="373.8" stroke="#8a8a8a" stroke-width="1" stroke-linecap="butt"/>
<text x="659.6" y="523.6" font-size="13.6" font-weight="normal" fill="#262626" text-anchor="middle" font-family='"Liberation Sans", sans-serif' font-style="normal" >10</text>
<line x1="502.4" y1="511.1" x2="503.9" y2="511.1" stroke="#8a8a8a" stroke-width="1" stroke-linecap="butt"/>
<line x1="659.6" y1="511.1" x2="658.1" y2="511.1" stroke="#8a8a8a" stroke-width="1" stroke-linecap="butt"/>
<text x="499.8" y="516.0" font-size="13" font-weight="normal" fill="#262626" text-anchor="end" font-family='"Liberation Sans", sans-serif' font-style="normal" >1000</text>
<line x1="502.4" y1="464.8" x2="503.9" y2="464.8" stroke="#8a8a8a" stroke-width="1" stroke-linecap="butt"/>
<line x1="659.6" y1="464.8" x2="658.1" y2="464.8" stroke="#8a8a8a" stroke-width="1" stroke-linecap="butt"/>
<text x="499.8" y="469.7" font-size="13" font-weight="normal" fill="#262626" text-anchor="end" font-family='"Liberation Sans", sans-serif' font-style="normal" >2000</text>
<line x1="502.4" y1="418.5" x2="503.9" y2="418.5" stroke="#8a8a8a" stroke-width="1" stroke-linecap="butt"/>
<line x1="659.6" y1="418.5" x2="658.1" y2="418.5" stroke="#8a8a8a" stroke-width="1" stroke-linecap="butt"/>
<text x="499.8" y="423.4" font-size="13" font-weight="normal" fill="#262626" text-anchor="end" font-family='"Liberation Sans", sans-serif' font-style="normal" >3000</text>
<line x1="502.4" y1="372.20000000000005" x2="503.9" y2="372.20000000000005" stroke="#8a8a8a" stroke-width="1" stroke-linecap="butt"/>
<line x1="659.6" y1="372.20000000000005" x2="658.1" y2="372.20000000000005" stroke="#8a8a8a" stroke-width="1" stroke-linecap="butt"/>
<text x="499.8" y="377.1" font-size="13" font-weight="normal" fill="#262626" text-anchor="end" font-family='"Liberation Sans", sans-serif' font-style="normal" >4000</text>
<text x="564.36" y="538.6" font-size="14" font-weight="normal" font-style="normal" fill="#262626" font-family='"Liberation Sans", sans-serif' textLength="66.76" lengthAdjust="spacingAndGlyphs" >Training Day</text>
<path d="M502.1,468.6 L519.6,502.8 L537.1,384.3 L554.6,428.1 L572.1,457.5 L589.6,433.5 L607.1,432.4 L624.6,424.9 L642.1,433.5 L659.6,433.9" fill="none" stroke="#0072BD" stroke-width="1.6" stroke-linejoin="round" stroke-linecap="round" />
<path d="M500.2,468.6 L502.1,466.0 L504.0,468.6 L502.1,471.2 Z" fill="none" stroke="#0072BD" stroke-width="1"/>
<path d="M517.7,502.8 L519.6,500.2 L521.5,502.8 L519.6,505.4 Z" fill="none" stroke="#0072BD" stroke-width="1"/>
<path d="M535.2,384.3 L537.1,381.7 L539.0,384.3 L537.1,386.9 Z" fill="none" stroke="#0072BD" stroke-width="1"/>
<path d="M552.7,428.1 L554.6,425.5 L556.5,428.1 L554.6,430.7 Z" fill="none" stroke="#0072BD" stroke-width="1"/>
<path d="M570.2,457.5 L572.1,454.9 L574.0,457.5 L572.1,460.1 Z" fill="none" stroke="#0072BD" stroke-width="1"/>
<path d="M587.7,433.5 L589.6,430.9 L591.5,433.5 L589.6,436.1 Z" fill="none" stroke="#0072BD" stroke-width="1"/>
<path d="M605.2,432.4 L607.1,429.8 L609.0,432.4 L607.1,435.0 Z" fill="none" stroke="#0072BD" stroke-width="1"/>
<path d="M622.7,424.9 L624.6,422.3 L626.5,424.9 L624.6,427.5 Z" fill="none" stroke="#0072BD" stroke-width="1"/>
<path d="M640.2,433.5 L642.1,430.9 L644.0,433.5 L642.1,436.1 Z" fill="none" stroke="#0072BD" stroke-width="1"/>
<path d="M657.7,433.9 L659.6,431.3 L661.5,433.9 L659.6,436.5 Z" fill="none" stroke="#0072BD" stroke-width="1"/>
<rect x="594.5" y="444.3" width="63" height="59" fill="#fff" stroke="#b8b8b8" stroke-width="0.8"/>
<rect x="596.2" y="490.1" width="17" height="12.8" fill="#1b6fc0"/>
<rect x="617.1" y="476.1" width="17.3" height="26.8" fill="#1b6fc0"/>
<rect x="638.4" y="480.8" width="17" height="22.1" fill="#1b6fc0"/>
<line x1="604.8" y1="473.9" x2="604.8" y2="502.9" stroke="#333" stroke-width="0.6" stroke-linecap="butt"/>
<line x1="603.3" y1="473.9" x2="606.3" y2="473.9" stroke="#333" stroke-width="0.5" stroke-linecap="butt"/>
<line x1="625.4" y1="445.4" x2="625.4" y2="502.9" stroke="#333" stroke-width="0.6" stroke-linecap="butt"/>
<line x1="623.9" y1="445.4" x2="626.9" y2="445.4" stroke="#333" stroke-width="0.5" stroke-linecap="butt"/>
<line x1="647.1" y1="456.3" x2="647.1" y2="502.9" stroke="#333" stroke-width="0.6" stroke-linecap="butt"/>
<line x1="645.6" y1="456.3" x2="648.6" y2="456.3" stroke="#333" stroke-width="0.5" stroke-linecap="butt"/>
<line x1="604.8" y1="462.4" x2="645.0" y2="462.4" stroke="#333" stroke-width="0.5" stroke-linecap="butt"/>
<line x1="604.8" y1="469.9" x2="622.1" y2="469.9" stroke="#333" stroke-width="0.5" stroke-linecap="butt"/>
<text transform="translate(604.6,460.9) scale(0.125)" x="0" y="0" font-size="34.4" fill="#333" text-anchor="start" font-family='"Liberation Sans", sans-serif'>• p=0.0081</text>
<text transform="translate(604.2,468.9) scale(0.125)" x="0" y="0" font-size="34.4" fill="#333" text-anchor="start" font-family='"Liberation Sans", sans-serif'>• p=0.0041</text>
<text transform="translate(593.0,448.4) scale(0.125)" x="0" y="0" font-size="36.8" fill="#333" text-anchor="end" font-family='"Liberation Sans", sans-serif'>7000</text>
<text transform="translate(593.0,504.6) scale(0.125)" x="0" y="0" font-size="36.8" fill="#333" text-anchor="end" font-family='"Liberation Sans", sans-serif'>0</text>
<text transform="translate(590.8,476.5) rotate(-90) scale(0.125)" x="0" y="0" font-size="33.6" fill="#222" text-anchor="middle" font-family='"Liberation Sans", sans-serif'>Integrated DA signal</text>
<text transform="translate(604.7,501.6) scale(0.125)" x="0" y="0" font-size="28.8" fill="#dfe9f7" text-anchor="middle" font-family='"Liberation Sans", sans-serif'>Days 1-2</text>
<text transform="translate(625.7,501.6) scale(0.125)" x="0" y="0" font-size="28.8" fill="#dfe9f7" text-anchor="middle" font-family='"Liberation Sans", sans-serif'>Days 3-4</text>
<text transform="translate(646.9,501.6) scale(0.125)" x="0" y="0" font-size="28.8" fill="#dfe9f7" text-anchor="middle" font-family='"Liberation Sans", sans-serif'>Days 8-10</text>
<text transform="translate(604.6,509.6) scale(0.125)" x="0" y="0" font-size="37.6" fill="#222" text-anchor="middle" font-family='"Liberation Sans", sans-serif'>Early</text>
<text transform="translate(626.1,509.6) scale(0.125)" x="0" y="0" font-size="37.6" fill="#222" text-anchor="middle" font-family='"Liberation Sans", sans-serif'>Intermediate</text>
<text transform="translate(647.0,509.6) scale(0.125)" x="0" y="0" font-size="37.6" fill="#222" text-anchor="middle" font-family='"Liberation Sans", sans-serif'>Late</text>
</svg>
</body></html>
